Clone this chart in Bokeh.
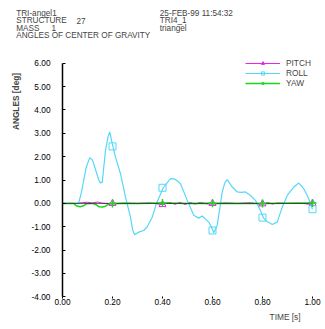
from bokeh.plotting import figure
from bokeh.models import (Range1d, FixedTicker, NumeralTickFormatter, Label, Legend,
                          LegendItem)
from bokeh.embed import file_html
from bokeh.resources import INLINE
import math

# ---- data ----
roll_t = [0.00, 0.06, 0.065, 0.075, 0.085, 0.095, 0.109, 0.12, 0.132, 0.145, 0.152, 0.159,
          0.172, 0.182, 0.189, 0.199, 0.212, 0.232, 0.252, 0.272, 0.28, 0.288, 0.305, 0.325,
          0.339, 0.359, 0.376, 0.403, 0.42, 0.432, 0.445, 0.456, 0.472, 0.499, 0.525, 0.545,
          0.559, 0.585, 0.599, 0.605, 0.619, 0.625, 0.632, 0.639, 0.65, 0.659, 0.679, 0.699,
          0.715, 0.732, 0.752, 0.772, 0.792, 0.803, 0.812, 0.839, 0.859, 0.879, 0.899, 0.925,
          0.945, 0.965, 0.985, 1.0]
roll_v = [0.00, 0.00, 0.02, 0.45, 1.00, 1.55, 1.96, 1.85, 1.45, 1.00, 0.87, 0.91,
          2.27, 2.85, 3.06, 2.56, 1.98, 1.27, 0.27, -0.59, -1.10, -1.34, -1.23, -1.16,
          -1.00, -0.59, 0.00, 0.67, 0.90, 1.06, 1.05, 0.99, 0.84, 0.13, -0.51, -0.63,
          -0.54, -0.80, -1.09, -1.26, -0.94, -0.51, 0.00, 0.50, 0.90, 1.02, 0.70, 0.49,
          0.47, 0.49, 0.34, 0.13, -0.30, -0.60, -0.73, -0.90, -0.80, -0.16, 0.34, 0.70,
          0.87, 0.63, 0.20, -0.25]

pitch_t = [0.0, 0.05, 0.08, 0.10, 0.12, 0.14, 0.16, 0.2, 0.25, 0.3, 0.35, 0.4, 0.43, 0.45,
           0.47, 0.49, 0.51, 0.53, 0.55, 0.58, 0.6, 0.65, 0.7, 0.75, 0.8, 0.82, 0.84, 0.86,
           0.9, 0.95, 1.0]
pitch_v = [0.0, 0.0, 0.03, 0.05, 0.02, 0.06, 0.01, -0.02, 0.01, 0.0, 0.02, -0.05, 0.04, -0.04,
           0.05, -0.05, 0.04, -0.03, 0.04, -0.02, -0.03, 0.02, 0.0, 0.03, -0.04, 0.04, -0.03,
           0.02, 0.0, 0.01, -0.05]

yaw_t = [0.0, 0.045, 0.055, 0.07, 0.085, 0.095, 0.12, 0.135, 0.145, 0.16, 0.172, 0.185,
         0.2, 0.25, 0.3, 0.4, 0.5, 0.6, 0.7, 0.8, 0.9, 1.0]
yaw_v = [0.0, 0.0, -0.10, -0.14, -0.10, -0.02, 0.0, -0.06, -0.14, -0.15, -0.12, -0.03,
         0.0, 0.01, 0.0, 0.02, 0.0, 0.01, 0.0, 0.0, 0.01, 0.02]

mark_t = [0.2, 0.4, 0.6, 0.8, 1.0]
pitch_mark = [0.0, -0.05, 0.0, -0.02, 0.0]
roll_mark = [2.44, 0.67, -1.16, -0.61, -0.25]
yaw_mark = [0.0, 0.02, 0.01, 0.0, 0.02]

zero_t = [0.0, 1.0]
zero_v = [0.0, 0.0]

y_ticks = [-4, -3, -2, -1, 0, 1, 2, 3, 4, 5, 6]
x_ticks = [0.0, 0.2, 0.4, 0.6, 0.8, 1.0]

# header texts: (text, x position in px, line index)
header_texts = [("TRI-angel1", 15.7, 0), ("STRUCTURE", 15.7, 1), ("27", 76.0, 1),
                ("MASS", 15.7, 2), ("1", 51.0, 2), ("ANGLES OF CENTER OF GRAVITY", 15.7, 3),
                ("25-FEB-99 11:54:32", 159.3, 0), ("TRI4_1", 159.3, 1),
                ("triangel", 159.3, 2)]
header_base = [12.8, 20.3, 27.6, 35.4]

FONT = "Liberation Sans"
FS = "8.3px"
HFS = "8.2px"
C_PITCH = "#F020F0"
C_ROLL = "#55D8F8"
C_YAW = "#18D818"

W, H = 325, 329
# frame covers the whole canvas; axes are drawn at fixed data locations
p = figure(width=W, height=H, output_backend="svg", toolbar_location=None,
           x_range=Range1d(-0.248, 1.052), y_range=Range1d(-5.398, 8.686),
           min_border_left=0, min_border_right=0, min_border_top=0, min_border_bottom=0)
p.outline_line_color = None
p.xgrid.visible = False
p.ygrid.visible = False
p.background_fill_color = "white"
p.border_fill_color = "white"

# y axis
p.yaxis.fixed_location = 0
p.yaxis.bounds = (-4, 6)
p.yaxis.ticker = FixedTicker(ticks=y_ticks)
p.yaxis.formatter = NumeralTickFormatter(format="0.00")
p.yaxis.major_tick_in = 3
p.yaxis.major_tick_out = 0
p.yaxis.minor_tick_line_color = None
p.yaxis.major_label_standoff = 12
p.yaxis.axis_line_color = "black"
p.yaxis.axis_line_width = 1.5
p.yaxis.major_tick_line_color = "black"
p.yaxis.major_label_text_font = FONT
p.yaxis.major_label_text_font_size = FS
p.yaxis.major_label_text_color = "black"

# x axis
p.xaxis.fixed_location = -4
p.xaxis.bounds = (0, 1)
p.xaxis.ticker = FixedTicker(ticks=x_ticks)
p.xaxis.formatter = NumeralTickFormatter(format="0.00")
p.xaxis.axis_line_color = None
p.xaxis.major_tick_in = 0
p.xaxis.major_tick_out = 2
p.xaxis.minor_tick_line_color = None
p.xaxis.major_label_standoff = 0
p.xaxis.major_label_text_font = FONT
p.xaxis.major_label_text_font_size = FS
p.xaxis.major_label_text_color = "black"

# curves
r_pl = p.line(pitch_t, pitch_v, line_color=C_PITCH, line_width=1)
r_rl = p.line(roll_t, roll_v, line_color=C_ROLL, line_width=1.2)
r_yl = p.line(yaw_t, yaw_v, line_color=C_YAW, line_width=1.5)
p.line(zero_t, zero_v, line_color="#202020", line_width=1, line_alpha=0.75)
r_pm = p.scatter(mark_t, pitch_mark, marker="triangle", size=7, fill_color=None,
                 line_color=C_PITCH)
r_rm = p.scatter(mark_t, roll_mark, marker="square", size=7, fill_color=None,
                 line_color=C_ROLL)
r_ym = p.scatter(mark_t, yaw_mark, marker="cross", size=8, line_color=C_YAW, line_width=1.5)

legend = Legend(items=[LegendItem(label="PITCH", renderers=[r_pl, r_pm]),
                       LegendItem(label="ROLL", renderers=[r_rl, r_rm]),
                       LegendItem(label="YAW", renderers=[r_yl, r_ym])],
                location=(245, H - 87.7), padding=0, margin=0, spacing=0,
                glyph_width=35, glyph_height=8, label_height=8, label_standoff=6,
                label_text_font=FONT, label_text_font_size=FS,
                background_fill_alpha=0, border_line_color=None)
p.add_layout(legend)

# header texts (screen units: from frame bottom-left, y upwards)
for txt, xx, li in header_texts:
    p.add_layout(Label(x=xx, y=H - header_base[li], x_units="screen", y_units="screen",
                       text=txt, text_font=FONT, text_font_size=HFS,
                       text_baseline="alphabetic"))

# axis titles
p.add_layout(Label(x=15, y=H - 101, x_units="screen", y_units="screen", text="ANGLES [deg]",
                   angle=math.pi / 2, text_align="center", text_baseline="middle",
                   text_font=FONT, text_font_size=FS, text_font_style="bold"))
p.add_layout(Label(x=300, y=H - 316.7, x_units="screen", y_units="screen", text="TIME [s]",
                   text_align="right", text_baseline="middle",
                   text_font=FONT, text_font_size=FS))

open("out.html", "w").write(file_html(p, INLINE))
